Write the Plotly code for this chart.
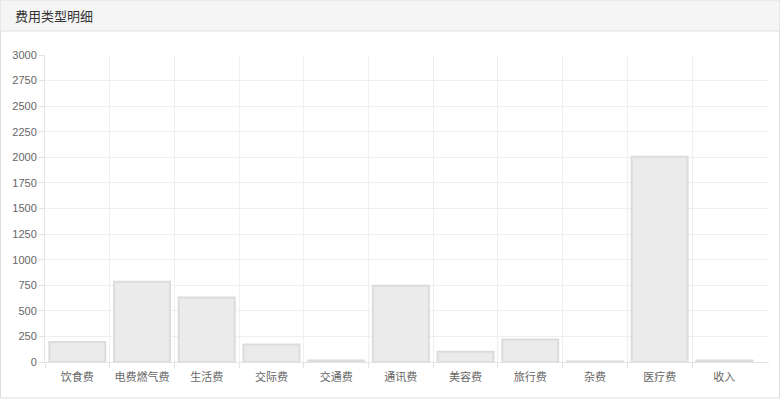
import plotly.graph_objects as go

categories = ["饮食费", "电费燃气费", "生活费", "交际费", "交通费", "通讯费", "美容费", "旅行费", "杂费", "医疗费", "收入"]
values = [195, 785, 630, 170, 15, 745, 100, 220, 5, 2005, 15]
y_ticks = list(range(0, 3001, 250))

W, H = 780, 400
L, R, T, B = 45, 11, 55, 38
PW, PH = W - L - R, H - T - B

def px(x):
    return (x - L) / PW

def py(y):
    return (H - B - y) / PH

xs = list(range(len(categories)))
fig = go.Figure(go.Bar(
    x=xs, y=values, width=0.865,
    marker=dict(color="#ebebeb", line=dict(color="#dcdcdc", width=2)),
    hoverinfo="skip",
))

font = dict(family="Liberation Sans, Noto Sans CJK SC, sans-serif", size=11, color="#666")

fig.update_layout(
    width=W, height=H,
    margin=dict(l=L, r=R, t=T, b=B),
    paper_bgcolor="white", plot_bgcolor="white",
    showlegend=False,
    font=font,
    xaxis=dict(
        range=[-0.5, 10.69],
        tickvals=xs, ticktext=categories,
        ticks="outside", ticklen=5, tickcolor="rgba(0,0,0,0)",
        showgrid=False, zeroline=False,
        showline=True, linecolor="#e3e3e3", linewidth=1,
        minor=dict(tickvals=[i - 0.5 for i in range(len(categories))],
                   showgrid=True, gridcolor="#efefef", gridwidth=1,
                   ticks="outside", ticklen=5, tickcolor="#e3e3e3"),
        tickfont=dict(family="Noto Sans CJK SC, sans-serif", size=11, color="#666"),
        fixedrange=True,
    ),
    yaxis=dict(
        range=[0, 3000], tickvals=y_ticks,
        ticks="outside", ticklen=5, tickcolor="#e3e3e3",
        showgrid=True, gridcolor="#efefef", gridwidth=1,
        zeroline=False, showline=True, linecolor="#e3e3e3",
        tickfont=dict(family="Liberation Sans, sans-serif", size=11, color="#666"),
        fixedrange=True,
    ),
    shapes=[
        dict(type="rect", xref="paper", yref="paper", layer="below",
             x0=px(0.5), x1=px(779.5), y0=py(398), y1=py(0.5),
             line=dict(color="#dddddd", width=1), fillcolor="white"),
        dict(type="rect", xref="paper", yref="paper", layer="below",
             x0=px(0.5), x1=px(779.5), y0=py(31), y1=py(0.5),
             line=dict(width=0), fillcolor="#f5f5f5"),
        dict(type="line", xref="paper", yref="paper", layer="below",
             x0=px(0.5), x1=px(779.5), y0=py(31), y1=py(31),
             line=dict(color="#dddddd", width=1)),
    ],
    annotations=[
        dict(text="费用类型明细", xref="paper", yref="paper",
             x=px(13), y=py(16), xanchor="left", yanchor="middle",
             showarrow=False,
             font=dict(family="Noto Sans CJK SC, sans-serif", size=13, color="#333")),
    ],
)

fig.write_html("out.html")
